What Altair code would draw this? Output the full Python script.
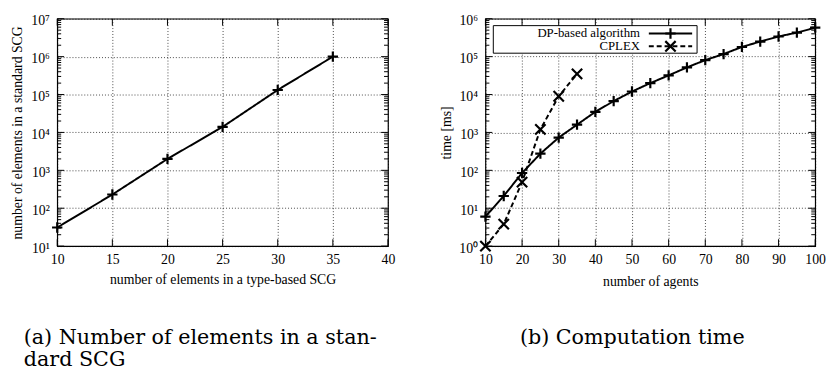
import altair as alt
import pandas as pd

# ---------------- data ----------------
# panel (a)
a_x = [10, 15, 20, 25, 30, 35]
a_y = [31, 230, 2000, 14000, 132000, 1000000]

# panel (b)
dp_x = [10, 15, 20, 25, 30, 35, 40, 45, 50, 55, 60, 65, 70, 75, 80, 85, 90, 95, 100]
dp_y = [6, 21, 85, 275, 730, 1600, 3500, 6700, 12000, 20000, 32000, 52000,
        81000, 117000, 180000, 250000, 340000, 430000, 580000]
cp_x = [10, 15, 20, 25, 30, 35]
cp_y = [1, 3.8, 49, 1200, 9000, 35000]

series_names = ["DP-based algorithm", "CPLEX"]

a_xticks = [10, 15, 20, 25, 30, 35, 40]
a_yticks = [1e1, 1e2, 1e3, 1e4, 1e5, 1e6, 1e7]
b_xticks = [10, 20, 30, 40, 50, 60, 70, 80, 90, 100]
b_yticks = [1e0, 1e1, 1e2, 1e3, 1e4, 1e5, 1e6]

captions = [["(a) Number of elements in a stan-", "dard SCG"], "(b) Computation time"]
titles_a = ["number of elements in a type-based SCG", "number of elements in a standard SCG"]
titles_b = ["number of agents", "time [ms]"]


def minor(majors):
    return [m * k for m in majors[:-1] for k in range(2, 10)]


PLUS = "M-1,0L1,0M0,-1L0,1"
CROSS = "M-1,-1L1,1M-1,1L1,-1"
FONT = "Liberation Serif"
SUP = "['\u2070','\u00b9','\u00b2','\u00b3','\u2074','\u2075','\u2076','\u2077']"
W1, W2, H = 336, 335, 231


def panel(W, xdom, ydom, xticks, yticks, xtitle, ytitle, xtitle_y, ytitle_x, lines, caption, cap_dx, cap_off):
    xs = alt.Scale(domain=xdom, nice=False, zero=False)
    ys = alt.Scale(type="log", domain=ydom, nice=False)
    common = dict(grid=True, gridDash=[1, 2], gridColor="#000", gridWidth=0.8, gridOpacity=0.9,
                  ticks=False, tickSize=0, domain=False, labelFlush=False, labelOverlap=False,
                  labelFont=FONT, labelFontSize=14, labelColor="#000",
                  titleFont=FONT, titleFontSize=14, titleFontWeight="normal", titleColor="#000",
                  titleBaseline="middle")
    xaxis = alt.Axis(values=xticks, title=xtitle, labelPadding=7, labelAngle=0,
                     titleY=xtitle_y, **common)
    yaxis = alt.Axis(values=yticks, title=ytitle, labelPadding=8, labelOffset=2,
                     labelExpr="'10' + " + SUP + "[round(log(datum.value)/LN10)]",
                     titleX=ytitle_x, titleY=H / 2, **common)

    def X(f):
        return alt.X(f, scale=xs, axis=xaxis)

    def Y(f):
        return alt.Y(f, scale=ys, axis=yaxis)

    layers = []
    for xv, yv, dash, shape in lines:
        df = pd.DataFrame({"x": xv, "y": yv})
        base = alt.Chart(df)
        layers.append(base.mark_line(color="#000", strokeWidth=2, strokeDash=dash).encode(
            x=X("x:Q"), y=Y("y:Q")))
        layers.append(base.mark_point(shape=shape, size=110, filled=False, color="#000",
                                      strokeWidth=2.2, opacity=1).encode(x=X("x:Q"), y=Y("y:Q")))
    # ticks (inward, mirrored)
    ymaj = pd.DataFrame({"x": [xdom[0]] * len(yticks), "y": yticks})
    ymin_v = minor(yticks)
    ymin = pd.DataFrame({"x": [xdom[0]] * len(ymin_v), "y": ymin_v})
    xmaj = pd.DataFrame({"x": xticks, "y": [ydom[0]] * len(xticks)})
    for df, ln in [(ymaj, 7), (ymin, 4)]:
        for x0, x1 in [(0, ln), (W - ln, W)]:
            layers.append(alt.Chart(df).mark_rule(color="#000", strokeWidth=1).encode(
                y=Y("y:Q"), x=alt.value(x0), x2=alt.value(x1)))
    for y0, y1 in [(H - 7, H), (0, 7)]:
        layers.append(alt.Chart(xmaj).mark_rule(color="#000", strokeWidth=1).encode(
            x=X("x:Q"), y=alt.value(y0), y2=alt.value(y1)))
    return layers, alt.TitleParams(text=caption, orient="bottom", anchor="start", frame="group",
                                   dx=cap_dx, offset=cap_off, font="DejaVu Serif", fontSize=21,
                                   fontWeight="normal", color="#000", baseline="alphabetic",
                                   lineHeight=23)


la, ta = panel(W1, [10, 40], [10, 1e7], a_xticks, a_yticks, titles_a[0], titles_a[1], 34, -40,
               [(a_x, a_y, [1, 0], PLUS)], captions[0], -34, 58)
chart_a = alt.layer(*la).properties(width=W1, height=H, title=ta)

lb, tb = panel(W2, [10, 100], [1, 1e6], b_xticks, b_yticks, titles_b[0], titles_b[1], 36, -39,
               [(dp_x, dp_y, [1, 0], PLUS), (cp_x, cp_y, [5, 3], CROSS)], captions[1], 35, 56)

# legend (gnuplot style: label, then sample)
leg = pd.DataFrame({"s": series_names})
box = alt.Chart(leg.head(1)).mark_rect(fill="#fff", stroke="#000", strokeWidth=1).encode(
    x=alt.value(8), x2=alt.value(215), y=alt.value(7), y2=alt.value(35))
lb.append(box)
for i, (name, dash, shape) in enumerate([(series_names[0], [1, 0], PLUS), (series_names[1], [5, 3], CROSS)]):
    row = pd.DataFrame({"s": [name]})
    yy = 15 + 13 * i
    lb.append(alt.Chart(row).mark_text(align="right", baseline="middle", font=FONT, fontSize=13,
                                       color="#000").encode(text="s:N", x=alt.value(157), y=alt.value(yy)))
    lb.append(alt.Chart(row).mark_rule(color="#000", strokeWidth=2, strokeDash=dash).encode(
        x=alt.value(166), x2=alt.value(210), y=alt.value(yy)))
    lb.append(alt.Chart(row).mark_point(shape=shape, size=110, filled=False, color="#000",
                                        strokeWidth=2.2, opacity=1).encode(
        x=alt.value(188), y=alt.value(yy)))

chart_b = alt.layer(*lb).properties(width=W2, height=H, title=tb)

chart = alt.hconcat(chart_a, chart_b, spacing=99, bounds="flush").properties(
    padding={"left": 2, "top": 2, "right": 0, "bottom": 0}
).configure_view(stroke="#000", strokeWidth=1.2)

chart.save("out.html", embed_options={"renderer": "svg", "actions": False})
